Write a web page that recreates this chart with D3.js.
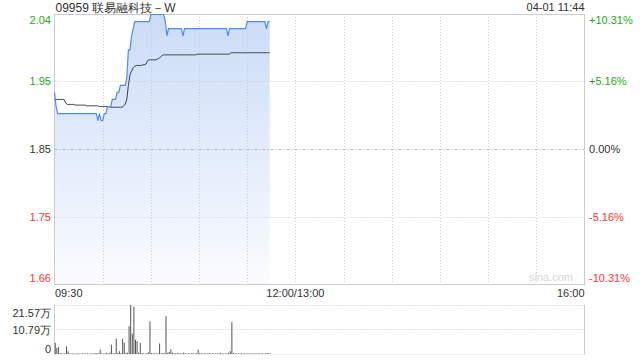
<!DOCTYPE html>
<html>
<head>
<meta charset="utf-8">
<script src="https://cdn.jsdelivr.net/npm/d3@7"></script>
<style>
  body { margin: 0; background: #fff; }
  svg { display: block; font-family: "Liberation Sans", Arial, sans-serif; }
  .lbl { font-size: 11px; }
</style>
</head>
<body>
<svg width="640" height="360"></svg>
<script>
var TITLE = "09959 联易融科技－W";
var STAMP = "04-01 11:44";
var PREV_CLOSE = 1.85;

// minute-by-minute price, 09:30 .. 11:44
var price = [
  1.93,1.91,1.90,1.90,1.90,1.90,1.90,1.90,1.90,1.90,
  1.90,1.90,1.90,1.90,1.90,1.90,1.90,1.90,1.90,1.90,
  1.90,1.90,1.90,1.90,1.90,1.90,1.90,1.89,1.90,1.89,
  1.89,1.90,1.90,1.91,1.91,1.91,1.92,1.92,1.92,1.93,
  1.93,1.94,1.94,1.94,1.94,1.95,1.99,1.99,2.01,2.02,
  2.03,2.03,2.03,2.03,2.03,2.03,2.03,2.03,2.03,2.03,
  2.04,2.04,2.04,2.04,2.04,2.04,2.04,2.04,2.04,2.03,
  2.01,2.02,2.02,2.02,2.02,2.02,2.02,2.02,2.02,2.02,
  2.01,2.02,2.02,2.02,2.02,2.02,2.02,2.02,2.02,2.02,
  2.02,2.02,2.02,2.02,2.02,2.02,2.02,2.02,2.02,2.02,
  2.02,2.02,2.02,2.02,2.02,2.02,2.02,2.02,2.01,2.02,
  2.02,2.02,2.02,2.02,2.02,2.02,2.02,2.02,2.02,2.02,
  2.03,2.03,2.03,2.03,2.03,2.03,2.03,2.03,2.03,2.03,
  2.03,2.03,2.02,2.03,2.03
];

// average price line
var avgPrice = [
  1.920,1.920,1.920,1.920,1.920,1.920,1.920,1.915,1.913,1.913,
  1.913,1.913,1.913,1.912,1.912,1.912,1.912,1.912,1.912,1.912,
  1.911,1.911,1.911,1.911,1.911,1.911,1.911,1.911,1.910,1.910,
  1.910,1.910,1.910,1.910,1.910,1.909,1.909,1.909,1.909,1.909,
  1.909,1.909,1.909,1.911,1.913,1.920,1.940,1.955,1.960,1.965,
  1.967,1.968,1.968,1.968,1.968,1.969,1.969,1.970,1.975,1.976,
  1.976,1.976,1.976,1.976,1.977,1.978,1.980,1.982,1.983,1.983,
  1.983,1.983,1.983,1.983,1.983,1.983,1.983,1.983,1.983,1.983,
  1.983,1.983,1.983,1.983,1.983,1.983,1.983,1.983,1.983,1.984,
  1.984,1.984,1.984,1.984,1.984,1.984,1.984,1.984,1.984,1.984,
  1.984,1.984,1.984,1.984,1.984,1.984,1.984,1.984,1.984,1.984,
  1.986,1.986,1.986,1.986,1.986,1.986,1.986,1.986,1.986,1.986,
  1.986,1.986,1.986,1.986,1.986,1.986,1.986,1.986,1.986,1.986,
  1.986,1.986,1.986,1.986,1.986
];

// volume per minute, in 万 shares
var volume = [
  4.9,2.6,3.1,0.4,0.3,0.2,0.3,3.4,1.2,0.3,
  0.2,0.3,0.2,0.2,0.3,0.2,0.2,0.3,0.2,0.2,
  0.3,0.2,0.2,0.3,0.2,0.3,0.4,0.3,1.9,0.3,
  0.2,0.3,0.5,0.3,0.6,4.1,0.4,0.3,6.8,0.5,
  1.2,0.4,6.6,4.9,0.5,0.6,12.2,21.57,9.0,20.8,
  6.3,5.6,0.6,4.9,0.4,0.3,0.2,0.3,0.7,14.4,
  0.4,0.3,0.3,0.2,0.3,4.6,0.3,0.4,0.3,16.6,
  0.5,0.9,2.1,0.6,0.4,0.3,0.5,0.3,0.3,0.2,
  0.6,0.3,0.2,0.3,0.2,0.4,0.3,0.2,0.3,1.9,
  0.4,0.3,0.2,0.3,0.2,0.3,0.4,0.2,0.3,0.2,
  0.3,0.2,0.3,0.5,0.2,0.3,0.2,0.3,0.6,1.2,
  14.0,0.4,0.3,0.2,0.3,0.2,0.3,0.2,0.3,0.2,
  0.3,0.2,0.3,0.2,0.3,0.2,0.2,0.3,0.2,0.3,
  0.2,0.3,0.4,0.3,0.2
];

var pctTicks = [10.31, 5.16, 0, -5.16, -10.31];
var volTicks = [21.57, 10.79, 0];
var volTickLabels = ["21.57万", "10.79万", "0"];
var timeTicks = [0, 150, 330];
var timeLabels = ["09:30", "12:00/13:00", "16:00"];

var GREEN = "#22aa22", RED = "#ff3333", DARK = "#333";

var svg = d3.select("svg");
var L = 54.5, R = 584.5, T = 14, B = 284;
var VT = 305, VB = 354;

var x = d3.scaleLinear().domain([0, 330]).range([L, R]);
var y = d3.scaleLinear()
  .domain([PREV_CLOSE * (1 - 0.1031), PREV_CLOSE * (1 + 0.1031)])
  .range([B, T]);
var yv = d3.scaleLinear().domain([0, 21.57]).range([VB, VT]);

function colorFor (pct) {
  return pct > 0 ? GREEN : (pct < 0 ? RED : DARK);
}

// gradient for the area
var grad = svg.append("defs").append("linearGradient")
  .attr("id", "fillGrad")
  .attr("gradientUnits", "userSpaceOnUse")
  .attr("x1", 0).attr("y1", T).attr("x2", 0).attr("y2", B);
grad.append("stop").attr("offset", "0%").attr("stop-color", "#cbdcf7");
grad.append("stop").attr("offset", "100%").attr("stop-color", "#fafcff");

// area under price
svg.append("path")
  .datum(price)
  .attr("fill", "url(#fillGrad)")
  .attr("d", d3.area()
    .x(function (d, i) { return x(i); })
    .y0(B)
    .y1(function (d) { return y(d); }));

// vertical grid, every 30 minutes (price panel only)
d3.range(30, 330, 30).forEach(function (m) {
  svg.append("line")
    .attr("x1", Math.round(x(m)) + 0.5).attr("x2", Math.round(x(m)) + 0.5)
    .attr("y1", T).attr("y2", B)
    .attr("stroke", "#ccc").attr("stroke-dasharray", "1,2");
});

// horizontal grid
pctTicks.forEach(function (p) {
  if (Math.abs(p) > 10) return;
  var yy = Math.round(y(PREV_CLOSE * (1 + p / 100))) + 0.5;
  svg.append("line")
    .attr("x1", L).attr("x2", R).attr("y1", yy).attr("y2", yy)
    .attr("stroke", p === 0 ? "#b8b8b8" : "#ccc")
    .attr("stroke-dasharray", p === 0 ? "3,2,1,2" : "1,2");
});

// frame
svg.append("rect")
  .attr("x", L).attr("y", T + 0.5).attr("width", R - L).attr("height", B - T)
  .attr("fill", "none").attr("stroke", "#ccc");

// price and average lines
svg.append("path")
  .datum(avgPrice)
  .attr("fill", "none").attr("stroke", "#3a404c").attr("stroke-width", 1)
  .attr("d", d3.line().x(function (d, i) { return x(i); }).y(function (d) { return y(d); }));
svg.append("path")
  .datum(price)
  .attr("fill", "none").attr("stroke", "#4f8cf0").attr("stroke-width", 1.2)
  .attr("d", d3.line().x(function (d, i) { return x(i); }).y(function (d) { return y(d); }));

// price labels, left and right
pctTicks.forEach(function (p, i) {
  var yy = y(PREV_CLOSE * (1 + p / 100));
  var base = i === 0 ? yy + 10 : (i === pctTicks.length - 1 ? yy - 2.5 : yy + 4);
  svg.append("text").attr("class", "lbl")
    .attr("x", 51).attr("y", base).attr("text-anchor", "end")
    .attr("fill", colorFor(p))
    .text((PREV_CLOSE * (1 + p / 100)).toFixed(2));
  svg.append("text").attr("class", "lbl")
    .attr("x", 589).attr("y", base)
    .attr("fill", colorFor(p))
    .text((p > 0 ? "+" : "") + p.toFixed(2) + "%");
});

// time labels
timeTicks.forEach(function (t, i) {
  svg.append("text").attr("class", "lbl")
    .attr("x", i === 0 ? L + 0.5 : (i === timeTicks.length - 1 ? R : x(t)))
    .attr("y", 297)
    .attr("text-anchor", i === 0 ? "start" : (i === timeTicks.length - 1 ? "end" : "middle"))
    .attr("fill", DARK)
    .text(timeLabels[i]);
});

// title and stamp
svg.append("text").attr("x", L + 1).attr("y", 12)
  .attr("font-size", 12).attr("fill", DARK).text(TITLE);
svg.append("text").attr("class", "lbl").attr("x", R).attr("y", 11)
  .attr("text-anchor", "end").attr("fill", DARK).text(STAMP);

// watermark
svg.append("text").attr("class", "lbl").attr("x", 573).attr("y", 281)
  .attr("text-anchor", "end").attr("fill", "#d6d6d6").text("sina.com");

// volume panel grid
volTicks.forEach(function (v, i) {
  var yy = Math.round(yv(v)) + 0.5;
  svg.append("line")
    .attr("x1", L).attr("x2", R).attr("y1", yy).attr("y2", yy)
    .attr("stroke", "#ccc").attr("stroke-dasharray", "1,2");
  var base = i === 0 ? yy + 11 : (i === volTicks.length - 1 ? yy - 1.5 : yy + 4);
  svg.append("text").attr("class", "lbl")
    .attr("x", 51).attr("y", base).attr("text-anchor", "end")
    .attr("fill", DARK).text(volTickLabels[i]);
});
svg.append("line").attr("x1", L).attr("x2", L).attr("y1", VT).attr("y2", VB + 0.5)
  .attr("stroke", "#ccc");
svg.append("line").attr("x1", R).attr("x2", R).attr("y1", VT).attr("y2", VB + 0.5)
  .attr("stroke", "#ccc");

// volume bars
svg.selectAll(".vbar")
  .data(volume)
  .enter().append("rect")
  .attr("class", "vbar")
  .attr("x", function (d, i) { return x(i) + 0.2; })
  .attr("width", 1)
  .attr("y", function (d) { return yv(d); })
  .attr("height", function (d) { return VB - yv(d); })
  .attr("fill", "#555");
</script>
</body>
</html>
